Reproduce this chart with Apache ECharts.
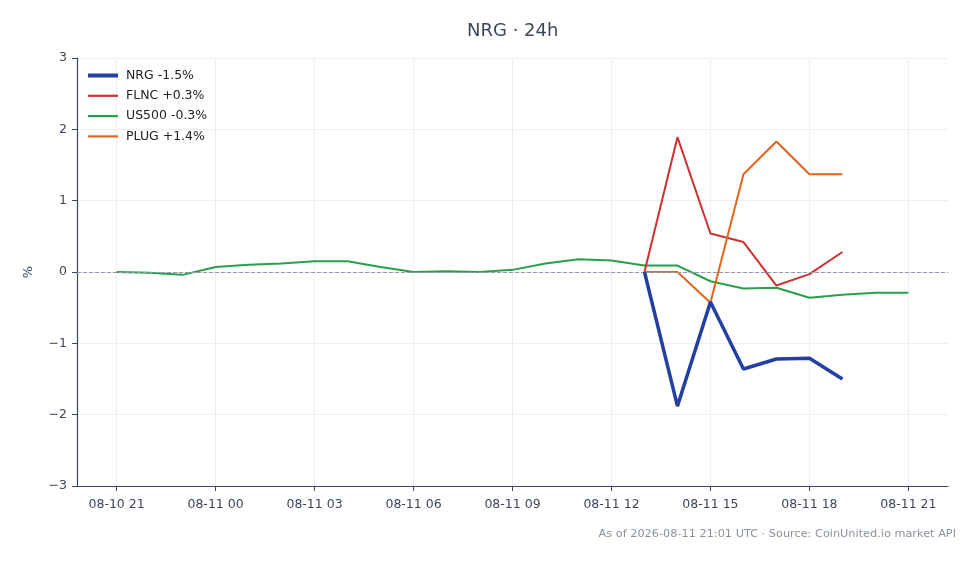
<!DOCTYPE html>
<html lang="en">
<head>
    <meta charset="utf-8"/>
    <title>NRG · 24h</title>
    <script src="https://cdn.jsdelivr.net/npm/echarts@6/dist/echarts.min.js"></script>
    <style type="text/css">
        html, body {
            height: 100%;
            margin: 0;
            background: #fff;
        }
        #main {
            width: 980px;
            height: 564px;
        }
    </style>
</head>
<body>
<div id="main"></div>
<script>
    // hours since 08-10 21:00 UTC
    var tickHours = [0, 3, 6, 9, 12, 15, 18, 21, 24];
    var tickLabels = ['08-10 21', '08-11 00', '08-11 03', '08-11 06', '08-11 09',
                      '08-11 12', '08-11 15', '08-11 18', '08-11 21'];

    var us500Hours = [0, 1, 2, 3, 4, 5, 6, 7, 8, 9, 10, 11, 12, 13, 14, 15, 16, 17, 18, 19, 20, 21, 22, 23, 24];
    var us500 = [0.0, -0.01, -0.04, 0.07, 0.10, 0.12, 0.15, 0.15, 0.07, 0.0, 0.01, 0.0, 0.03,
                 0.12, 0.18, 0.16, 0.09, 0.09, -0.13, -0.23, -0.22, -0.36, -0.32, -0.29, -0.29];

    var stockHours = [16, 17, 18, 19, 20, 21, 22];
    var nrg = [0.0, -1.88, -0.42, -1.36, -1.22, -1.21, -1.50];
    var flnc = [0.0, 1.89, 0.54, 0.42, -0.19, -0.03, 0.28];
    var plug = [0.0, 0.0, -0.43, 1.37, 1.83, 1.37, 1.37];

    var names = ['NRG -1.5%', 'FLNC +0.3%', 'US500 -0.3%', 'PLUG +1.4%'];

    function pairs(xs, ys) {
        return xs.map(function (x, i) { return [x, ys[i]]; });
    }

    var myChart = echarts.init(document.getElementById('main'));

    var axisColor = '#3c4858';
    var gridColor = '#eceef1';

    var option = {
        backgroundColor: '#fff',
        animation: false,
        title: {
            text: 'NRG · 24h',
            left: 462,
            top: 17,
            textStyle: {
                fontFamily: 'DejaVu Sans',
                fontSize: 18,
                fontWeight: 'normal',
                color: '#3c4858'
            }
        },
        legend: {
            orient: 'vertical',
            left: 86,
            top: 69,
            padding: 0,
            itemWidth: 30,
            itemHeight: 14,
            itemGap: 7.3,
            data: names.map(function (n, i) {
                return {name: n, lineStyle: {width: i === 0 ? 4 : 2.2}};
            }),
            itemStyle: {opacity: 0},
            textStyle: {
                fontFamily: 'DejaVu Sans',
                fontSize: 12.5,
                color: '#222',
                padding: [0, 0, 0, 3]
            }
        },
        grid: {
            left: 77,
            right: 32,
            top: 58,
            bottom: 78
        },
        xAxis: {
            type: 'value',
            min: -1.2,
            max: 25.2,
            axisLine: {onZero: false, lineStyle: {color: axisColor, width: 1.2}},
            axisTick: {show: true, customValues: tickHours, length: 5, lineStyle: {color: axisColor}},
            axisLabel: {
                customValues: tickHours,
                formatter: function (v) {
                    var i = tickHours.indexOf(Math.round(v));
                    return i >= 0 ? tickLabels[i] : '';
                },
                fontFamily: 'DejaVu Sans',
                fontSize: 12.5,
                color: axisColor,
                margin: 12
            },
            splitLine: {show: true, lineStyle: {color: gridColor, width: 1}}
        },
        yAxis: {
            type: 'value',
            min: -3,
            max: 3,
            interval: 1,
            name: '%',
            nameLocation: 'middle',
            nameGap: 42,
            nameRotate: 90,
            nameTextStyle: {fontFamily: 'DejaVu Sans', fontSize: 13, color: axisColor},
            axisLine: {show: true, onZero: false, lineStyle: {color: axisColor, width: 1.2}},
            axisTick: {show: true, length: 5, lineStyle: {color: axisColor}},
            axisLabel: {
                fontFamily: 'DejaVu Sans',
                fontSize: 12.5,
                color: axisColor,
                margin: 10,
                formatter: function (v) { return v < 0 ? '\u2212' + Math.abs(v) : String(v); }
            },
            splitLine: {show: true, lineStyle: {color: gridColor, width: 1}}
        },
        graphic: [{
            type: 'text',
            right: 24,
            top: 529,
            style: {
                text: 'As of 2026-08-11 21:01 UTC \u00b7 Source: CoinUnited.io market API',
                fontFamily: 'DejaVu Sans',
                fontSize: 11.3,
                fill: '#8a929c'
            }
        }],
        series: [
            {
                name: names[0],
                type: 'line',
                data: pairs(stockHours, nrg),
                symbol: 'none',
                z: 5,
                lineStyle: {color: '#2340a0', width: 3.5},
                itemStyle: {color: '#2340a0'}
            },
            {
                name: names[1],
                type: 'line',
                data: pairs(stockHours, flnc),
                symbol: 'none',
                z: 3,
                lineStyle: {color: '#cf3030', width: 2},
                itemStyle: {color: '#cf3030'}
            },
            {
                name: names[2],
                type: 'line',
                data: pairs(us500Hours, us500),
                symbol: 'none',
                z: 2,
                lineStyle: {color: '#27a048', width: 2},
                itemStyle: {color: '#27a048'},
                markLine: {
                    silent: true,
                    symbol: 'none',
                    label: {show: false},
                    lineStyle: {color: '#8e9bb0', type: 'dashed', width: 1},
                    data: [{yAxis: 0}]
                }
            },
            {
                name: names[3],
                type: 'line',
                data: pairs(stockHours, plug),
                symbol: 'none',
                z: 4,
                lineStyle: {color: '#e0661a', width: 2},
                itemStyle: {color: '#e0661a'}
            }
        ]
    };

    myChart.setOption(option);
</script>
</body>
</html>
